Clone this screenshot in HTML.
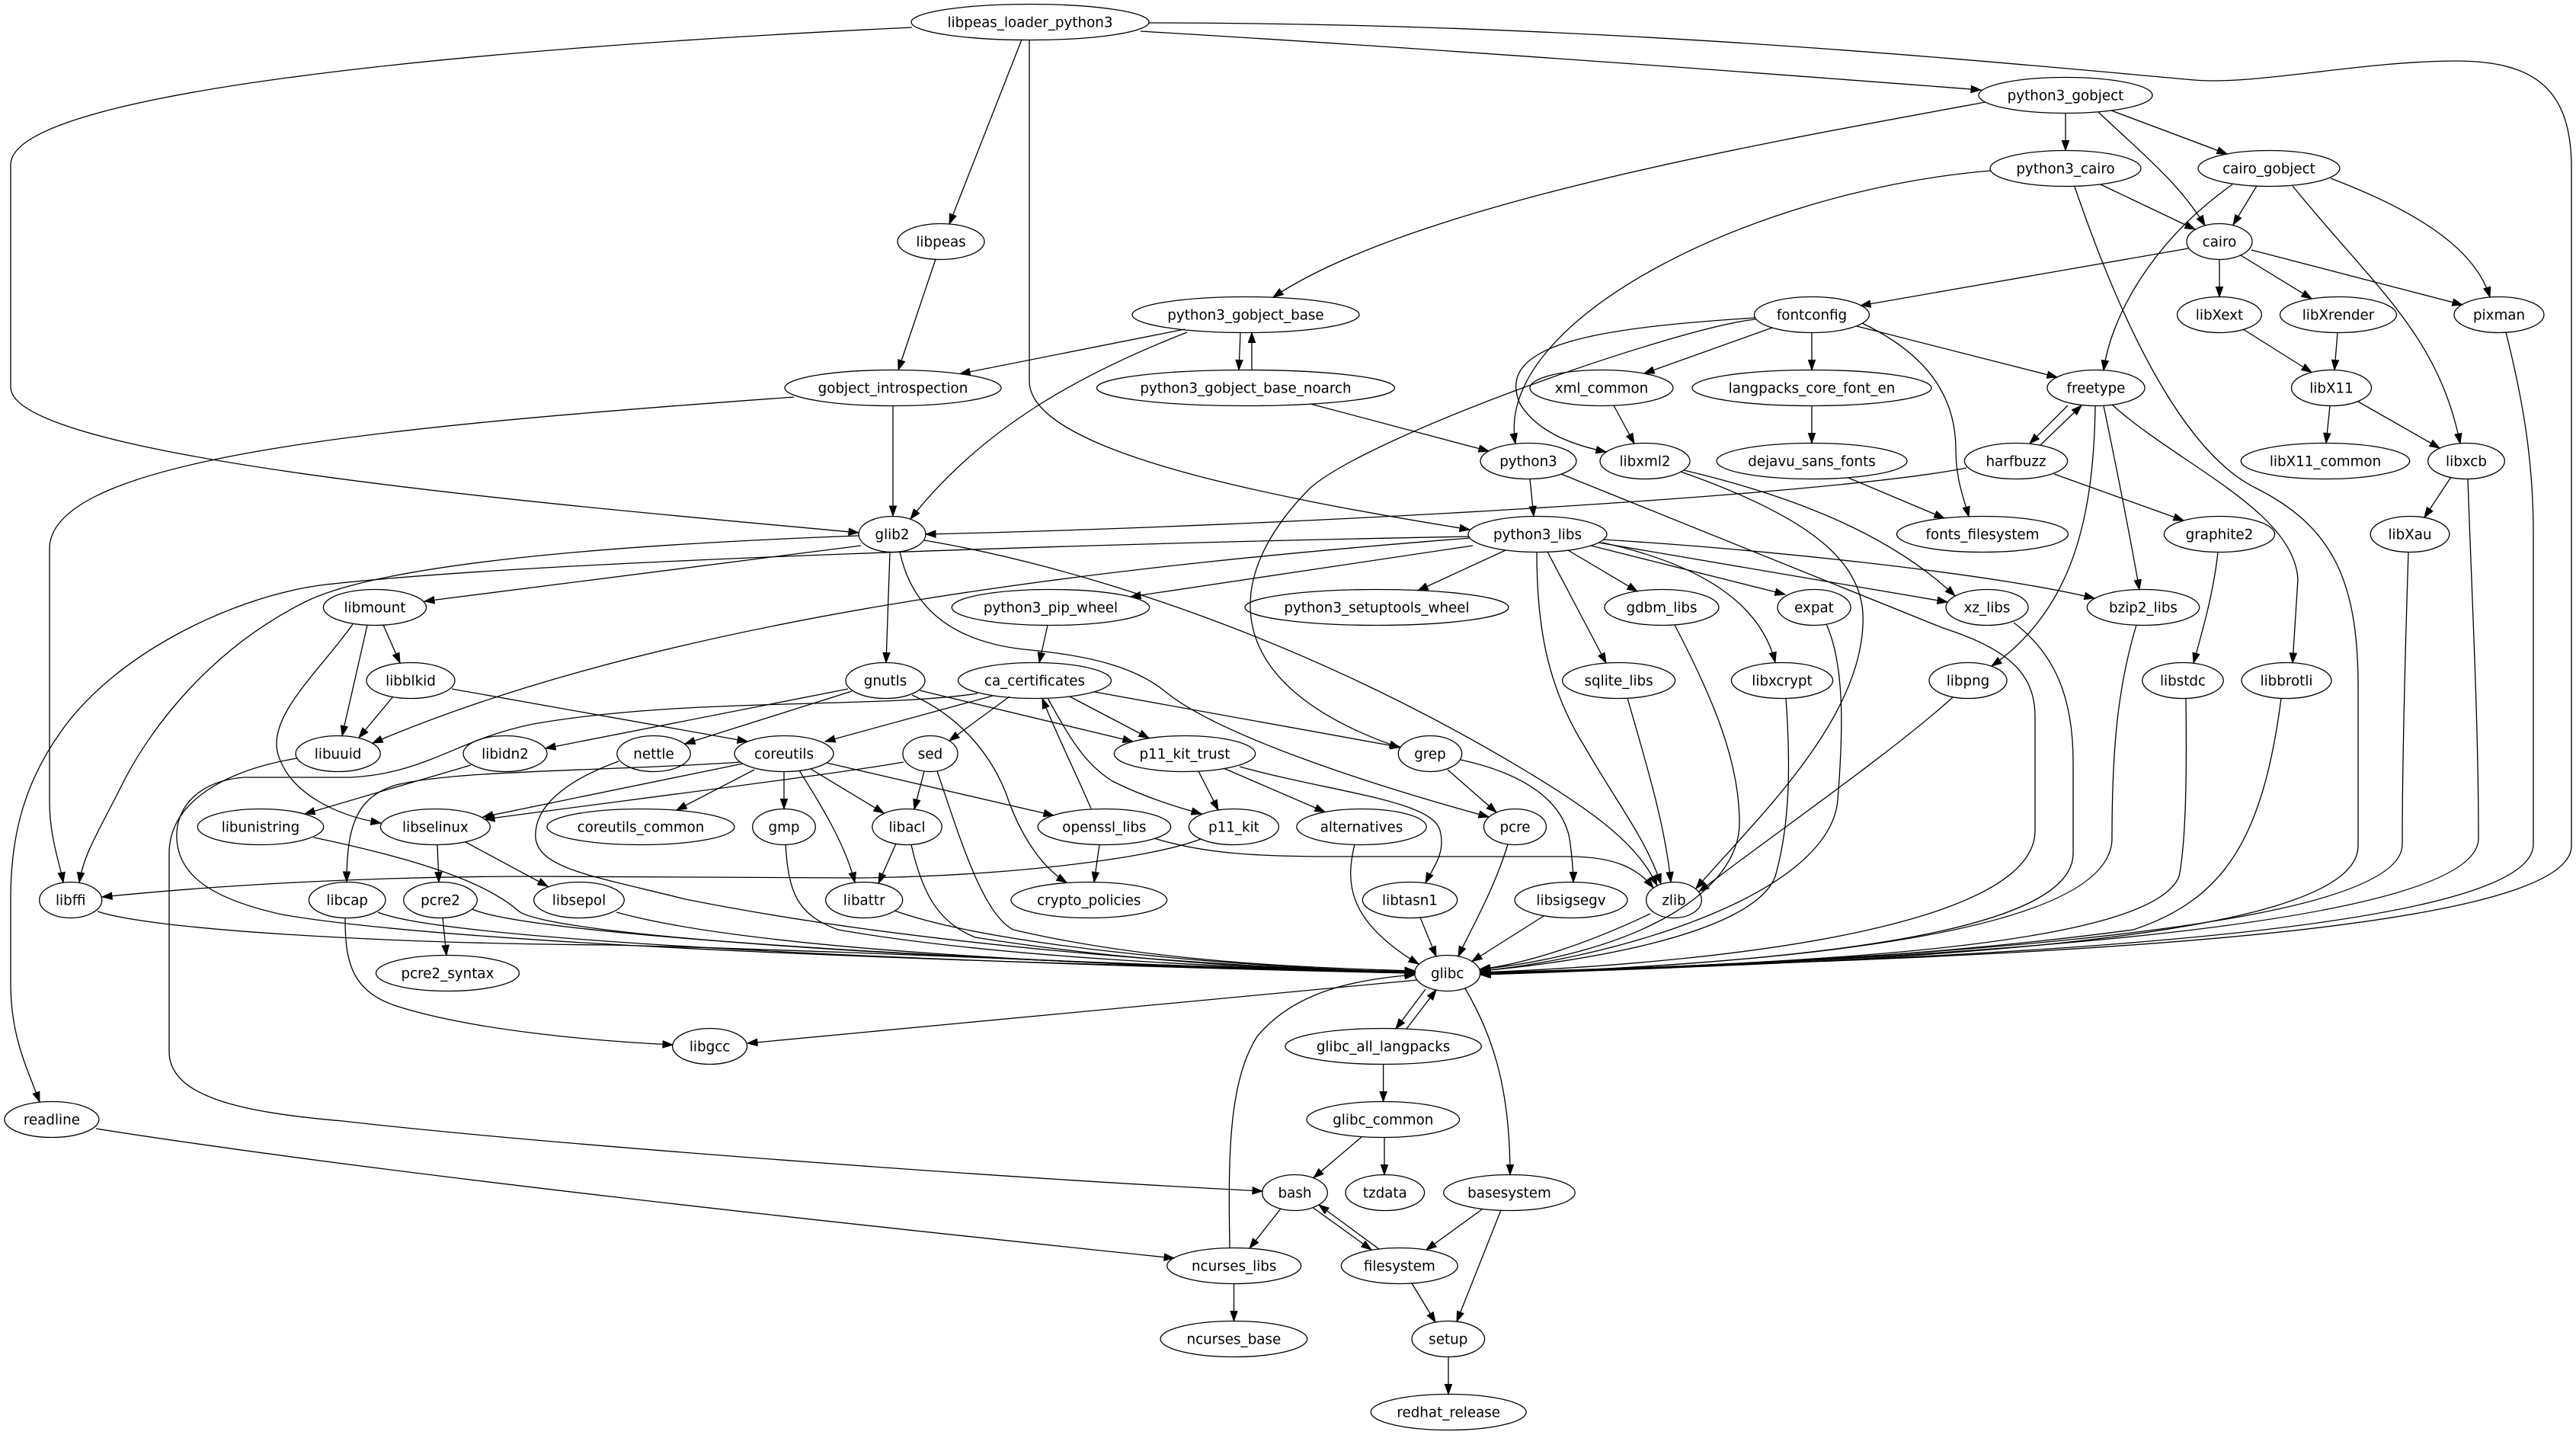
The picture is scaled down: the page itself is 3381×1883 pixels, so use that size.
<!DOCTYPE html>
<html><head><meta charset="utf-8"><style>
html,body{margin:0;padding:0;background:#fff;}
svg{display:block;}
text{font-family:"DejaVu Sans","Liberation Sans",sans-serif;font-size:18.3px;fill:#000;text-anchor:middle;}
</style></head><body>
<svg width="3381" height="1883" viewBox="0 0 3381 1883" xmlns="http://www.w3.org/2000/svg">
<defs>
<marker id="a" markerWidth="14" markerHeight="10" refX="13" refY="4.6" orient="auto" markerUnits="userSpaceOnUse" overflow="visible">
<path d="M0,0 L13,4.6 L0,9.2 z" fill="#000" stroke="#000" stroke-width="1"/>
</marker>
</defs>
<rect width="3381" height="1883" fill="#fff"/>
<g fill="none" stroke="#000" stroke-width="1.3" marker-end="url(#a)">
<path d="M1197,36 C900,50 14,100 14,216 L14,508 C14,600 700,660 1127,699"/>
<path d="M1341,52 L1246,294"/>
<path d="M1351,52.5 L1351,500 C1351,590 1650,650 1929,695"/>
<path d="M1497,41 C1900,65 2300,95 2600,118"/>
<path d="M1508,30 C2100,30 2600,80 2880,105 C2960,112 3100,80 3224,80 C3330,80 3375,120 3375,220 L3375,1110 C3375,1250 2300,1262 1943,1277"/>
<path d="M2606,134 C2300,190 1850,270 1671,390"/>
<path d="M2711,148.5 L2711,197.5"/>
<path d="M2771,145 L2923,202"/>
<path d="M2754,147 C2810,200 2860,240 2894,296"/>
<path d="M2757,242 L2881,301"/>
<path d="M2613,224 C2300,250 1960,420 1989,582"/>
<path d="M2723,245 C2800,470 2880,600 2960,640 C3060,690 3095,760 3095,900 L3095,1110 C3095,1240 2450,1262 1943,1279"/>
<path d="M2962,244 L2931,295"/>
<path d="M2930,242 C2820,320 2770,420 2761,486"/>
<path d="M3009,244 C3120,380 3200,440 3229,582"/>
<path d="M3059,234 C3180,280 3250,330 3268,390"/>
<path d="M2872,326 L2442,401"/>
<path d="M2913,340.5 L2913,389.5"/>
<path d="M2941,335 L3034,392"/>
<path d="M2955,328 L3232,400"/>
<path d="M1228,340 L1179,485.5"/>
<path d="M1555,432 L1260,490.5"/>
<path d="M1558,436 C1420,490 1290,560 1195,681"/>
<path d="M1628,436.5 L1626,485.5"/>
<path d="M1643,485.5 L1643,436.5"/>
<path d="M1720,530 L1954,592"/>
<path d="M1172,532.5 L1172,677"/>
<path d="M1042,521 C500,560 65,600 65,720 L65,1050 C65,1100 78,1130 83,1158"/>
<path d="M2326,430 L2158,490"/>
<path d="M2378,436.5 L2378,485.5"/>
<path d="M2437,428 L2700,495"/>
<path d="M2444,424 C2540,470 2567,530 2567,590 C2567,630 2578,655 2584,678"/>
<path d="M2304,417 C2100,430 1960,450 1995,530 C2020,570 2070,585 2108,593"/>
<path d="M2304,419 C2200,430 1800,570 1720,640 C1600,760 1600,900 1837,981"/>
<path d="M2118,532 L2145,582"/>
<path d="M2378,532.5 L2378,581.5"/>
<path d="M2426,627 L2552,680"/>
<path d="M2714,532 L2664,582"/>
<path d="M2678,584 L2732,532"/>
<path d="M2750,532.5 C2748,680 2720,800 2614,874"/>
<path d="M2761,532.5 C2775,600 2795,700 2808,774"/>
<path d="M2772,531 C2860,610 3010,670 3016,760 L3009,870"/>
<path d="M2581,614 C2400,650 1700,690 1215,701"/>
<path d="M2696,622 L2866,683"/>
<path d="M2944,432 L3034,488.5"/>
<path d="M3068,436.5 L3064,485.5"/>
<path d="M3058,532.5 L3053,581.5"/>
<path d="M3095,527 L3202,588"/>
<path d="M3217,626 L3182,679"/>
<path d="M3239,628.5 C3245,800 3253,950 3253,1100 C3253,1230 2400,1262 1943,1279"/>
<path d="M3161,724.5 C3157,850 3153,1000 3153,1108 C3153,1230 2400,1262 1943,1278"/>
<path d="M3289,436 C3310,520 3325,600 3325,700 L3325,1108 C3325,1240 2400,1262 1943,1277"/>
<path d="M2911,724.5 C2905,780 2890,830 2879,870"/>
<path d="M2869,916.5 C2870,1000 2870,1100 2860,1150 C2820,1250 2300,1265 1943,1278"/>
<path d="M2994,916.5 C2970,1100 2920,1180 2800,1220 C2500,1260 2200,1270 1943,1278"/>
<path d="M2804,820 C2780,900 2772,980 2772,1100 C2772,1200 2500,1260 1943,1278"/>
<path d="M2563,915 C2480,990 2320,1100 2230,1170"/>
<path d="M2643,817 C2700,860 2721,920 2721,1000 L2721,1120 C2721,1220 2400,1262 1943,1279"/>
<path d="M2397,819 C2420,870 2420,950 2412,1050 C2400,1180 2100,1260 1943,1274"/>
<path d="M2344,916.5 C2350,1000 2350,1080 2330,1150 C2300,1230 2050,1265 1943,1274"/>
<path d="M2103,712 C2230,740 2310,790 2330,869"/>
<path d="M2088,716 L2343,780"/>
<path d="M2098,712 L2556,790"/>
<path d="M2104,708 C2300,720 2600,750 2749,785"/>
<path d="M2008,628.5 L2013,677.5"/>
<path d="M2049,622 L2550,824 C2630,850 2671,880 2671,940 L2671,1090 C2671,1210 2300,1262 1943,1276"/>
<path d="M2206,619 C2380,680 2450,740 2445,820 C2440,950 2300,1080 2226,1166"/>
<path d="M2210,617 C2350,650 2480,700 2566,782"/>
<path d="M1933,716 L1484,783"/>
<path d="M1976,722 L1861,775"/>
<path d="M2058,722 L2149,776"/>
<path d="M2031,724 L2108,870"/>
<path d="M2017,724.5 C2017,820 2030,900 2080,980 C2120,1050 2160,1100 2180,1160"/>
<path d="M1929,706 C1500,740 900,800 489,975"/>
<path d="M1928,704 C1500,712 700,735 420,768 C300,785 150,860 80,960 C30,1030 14,1100 14,1180 L14,1290 C14,1360 35,1400 52,1446"/>
<path d="M1130,716 L557,789"/>
<path d="M1127,703 C800,715 500,740 400,790 C280,850 200,950 160,1030 C130,1090 110,1120 104,1158"/>
<path d="M1168,724.5 L1163,869.5"/>
<path d="M1213,709 C1400,740 1700,830 2000,1010 C2100,1070 2150,1110 2175,1162"/>
<path d="M1181,724 C1195,790 1240,840 1343,852 C1430,860 1490,875 1530,908 C1600,965 1800,1030 1954,1072"/>
<path d="M503,820 L525,870"/>
<path d="M482,820.5 L449,965.5"/>
<path d="M463,819 C420,880 350,940 365,990 C380,1040 440,1070 500,1080"/>
<path d="M516,914 L471,968"/>
<path d="M593,904 L981,973"/>
<path d="M390,995 C300,1010 222,1050 222,1120 L222,1380 C222,1440 320,1460 450,1471 C700,1500 1300,1545 1657,1563"/>
<path d="M618,1004 L400,1068"/>
<path d="M412,1099 C560,1130 640,1160 680,1195 C720,1230 1300,1265 1857,1275"/>
<path d="M574,1108.5 L576,1157.5"/>
<path d="M611,1105 L719,1163"/>
<path d="M809,1197 C1000,1250 1500,1270 1857,1276"/>
<path d="M581,1204.5 L586,1253.5"/>
<path d="M620,1193 C700,1230 1400,1268 1857,1276"/>
<path d="M496,1197 C600,1240 1400,1268 1857,1277"/>
<path d="M453,1204.5 C453,1260 460,1300 520,1320 C620,1352 780,1366 883,1371"/>
<path d="M128,1196 C200,1220 500,1238 800,1240 C1200,1250 1600,1272 1857,1277"/>
<path d="M1860,1286 L981,1369"/>
<path d="M812,999 C740,1025 700,1060 703,1100 C708,1140 780,1150 900,1180 C1200,1240 1600,1270 1857,1276"/>
<path d="M1113,904 L716,982"/>
<path d="M1118,907 L899,976"/>
<path d="M1207,906 L1487,973"/>
<path d="M1197,912 C1260,940 1300,990 1320,1040 C1340,1100 1370,1140 1400,1158"/>
<path d="M1303,913 L1083,973"/>
<path d="M1325,914 L1246,972"/>
<path d="M1404,914 L1508,968.5"/>
<path d="M1437,908 L1838,980.5"/>
<path d="M1375,916 C1400,960 1420,1000 1460,1025 C1500,1045 1540,1058 1577,1068"/>
<path d="M1283,910 C1150,930 900,915 700,950 C600,970 560,1015 460,1020 L320,1020 C260,1025 230,1060 232,1100 C234,1150 280,1180 370,1200 C600,1240 1300,1265 1857,1275"/>
<path d="M1375,820.5 L1364,869.5"/>
<path d="M975,1002 L634,1072"/>
<path d="M1186,1000 C1100,1015 900,1040 636,1075"/>
<path d="M990,1010 L888,1063"/>
<path d="M1029,1012.5 L1029,1061.5"/>
<path d="M1049,1011 C1080,1060 1110,1110 1122,1158"/>
<path d="M1064,1009 L1160,1067"/>
<path d="M1085,1001 L1383,1070"/>
<path d="M972,1000 C800,1012 600,1010 520,1030 C470,1045 455,1080 455,1157"/>
<path d="M1213,1012 L1200,1062"/>
<path d="M1230,1012 C1260,1100 1290,1200 1330,1220 C1500,1260 1700,1270 1857,1274"/>
<path d="M1176,1107 L1153,1159"/>
<path d="M1196,1108.5 C1210,1170 1230,1210 1280,1230 C1500,1265 1700,1272 1857,1276"/>
<path d="M1174,1195 C1300,1240 1600,1268 1857,1276"/>
<path d="M1031,1108 C1035,1170 1045,1200 1100,1220 C1300,1255 1600,1270 1857,1276"/>
<path d="M1443,1108 L1436,1157.5"/>
<path d="M1515,1100 C1580,1120 1650,1124 1750,1124 L2060,1124 C2120,1124 2150,1140 2170,1165"/>
<path d="M1432,1061 C1410,1010 1385,960 1368,916.5"/>
<path d="M1576,1101 C1500,1130 1300,1150 1127,1152 L700,1150 C500,1150 300,1160 134,1177"/>
<path d="M1573,1012 L1599,1063"/>
<path d="M1606,1008 L1739,1065.5"/>
<path d="M1627,1006 C1750,1040 1880,1050 1890,1090 C1898,1120 1880,1140 1871,1158.5"/>
<path d="M1778,1108 C1765,1160 1770,1210 1862,1265"/>
<path d="M1979,1108 C1960,1170 1930,1220 1914,1255"/>
<path d="M1900,1010 L1964,1066"/>
<path d="M1917,997 C2000,1015 2050,1050 2060,1100 C2064,1130 2065,1145 2065,1157.5"/>
<path d="M1864,1204 L1885,1255"/>
<path d="M2026,1202 L1932,1261.5"/>
<path d="M2166,1199 C2080,1240 2000,1265 1942,1272"/>
<path d="M2198,820 C2250,920 2283,1000 2283,1080 C2283,1170 2150,1250 1943,1272"/>
<path d="M2136,916 C2160,1000 2185,1080 2193,1157.5"/>
<path d="M1871,1298 L1832,1350"/>
<path d="M1846,1350 L1885,1299"/>
<path d="M1923,1297 C1960,1360 1982,1430 1982,1541.5"/>
<path d="M1815.6,1396.5 L1815.6,1445.5"/>
<path d="M1787,1492 L1724,1545.5"/>
<path d="M1817,1492.5 L1817,1541.5"/>
<path d="M1681,1586 L1640,1638"/>
<path d="M1723,1584.5 L1800,1640"/>
<path d="M1810,1639 L1731,1581"/>
<path d="M1945,1587 L1872,1640"/>
<path d="M1970,1588 L1912,1734"/>
<path d="M1853,1684 L1884,1735"/>
<path d="M1619.5,1684.5 L1619.5,1733.5"/>
<path d="M1614,1637.5 C1612,1520 1612,1420 1650,1360 C1700,1300 1780,1285 1857,1279"/>
<path d="M1901,1780.5 L1901,1829.5"/>
<path d="M126,1481 C500,1540 1100,1605 1541,1651"/>
</g>
<g fill="none" stroke="#000" stroke-width="1.3">
<ellipse cx="1352" cy="29" rx="156" ry="23.5"/>
<ellipse cx="2711" cy="125" rx="114" ry="23.5"/>
<ellipse cx="2711" cy="221" rx="99" ry="23.5"/>
<ellipse cx="2978" cy="221" rx="93" ry="23.5"/>
<ellipse cx="1235" cy="317" rx="57" ry="23.5"/>
<ellipse cx="2913" cy="317" rx="43" ry="23.5"/>
<ellipse cx="1635" cy="413" rx="149" ry="23.5"/>
<ellipse cx="2378" cy="413" rx="75.5" ry="23.5"/>
<ellipse cx="2913" cy="413" rx="55.4" ry="23.5"/>
<ellipse cx="3069" cy="413" rx="76.5" ry="23.5"/>
<ellipse cx="3280" cy="413" rx="59" ry="23.5"/>
<ellipse cx="1172" cy="509" rx="142" ry="23.5"/>
<ellipse cx="1635" cy="509" rx="195.5" ry="23.5"/>
<ellipse cx="2102" cy="509" rx="94" ry="23.5"/>
<ellipse cx="2378" cy="509" rx="157" ry="23.5"/>
<ellipse cx="2751" cy="509" rx="64" ry="23.5"/>
<ellipse cx="3060" cy="509" rx="52.5" ry="23.5"/>
<ellipse cx="2006" cy="605" rx="63" ry="23.5"/>
<ellipse cx="2159" cy="605" rx="59" ry="23.5"/>
<ellipse cx="2378" cy="605" rx="125" ry="23.5"/>
<ellipse cx="2646" cy="605" rx="67.6" ry="23.5"/>
<ellipse cx="3052" cy="605" rx="110.7" ry="23.5"/>
<ellipse cx="3237" cy="605" rx="50.3" ry="23.5"/>
<ellipse cx="1171" cy="701" rx="44" ry="23.5"/>
<ellipse cx="2018" cy="701" rx="91" ry="23.5"/>
<ellipse cx="2602" cy="701" rx="112.5" ry="23.5"/>
<ellipse cx="2913" cy="701" rx="72.6" ry="23.5"/>
<ellipse cx="3163" cy="701" rx="51.8" ry="23.5"/>
<ellipse cx="492" cy="797" rx="67.6" ry="23.5"/>
<ellipse cx="1379" cy="797" rx="129.7" ry="23.5"/>
<ellipse cx="1807" cy="797" rx="173" ry="23.5"/>
<ellipse cx="2181" cy="797" rx="75" ry="23.5"/>
<ellipse cx="2381" cy="797" rx="48" ry="23.5"/>
<ellipse cx="2608" cy="797" rx="54" ry="23.5"/>
<ellipse cx="2813" cy="797" rx="73.7" ry="23.5"/>
<ellipse cx="539" cy="893" rx="58" ry="23.5"/>
<ellipse cx="1162" cy="893" rx="52" ry="23.5"/>
<ellipse cx="1358" cy="893" rx="100.5" ry="23.5"/>
<ellipse cx="2124.6" cy="893" rx="74" ry="23.5"/>
<ellipse cx="2339" cy="893" rx="66.6" ry="23.5"/>
<ellipse cx="2583" cy="893" rx="51" ry="23.5"/>
<ellipse cx="2865" cy="893" rx="53.2" ry="23.5"/>
<ellipse cx="3001" cy="893" rx="59" ry="23.5"/>
<ellipse cx="443.6" cy="989" rx="55.6" ry="23.5"/>
<ellipse cx="663" cy="989" rx="55" ry="23.5"/>
<ellipse cx="858" cy="989" rx="48.2" ry="23.5"/>
<ellipse cx="1029" cy="989" rx="65" ry="23.5"/>
<ellipse cx="1221" cy="989" rx="36" ry="23.5"/>
<ellipse cx="1555" cy="989" rx="92.7" ry="23.5"/>
<ellipse cx="1877" cy="989" rx="41.7" ry="23.5"/>
<ellipse cx="342" cy="1085" rx="82.7" ry="23.5"/>
<ellipse cx="571.4" cy="1085" rx="72" ry="23.5"/>
<ellipse cx="841" cy="1085" rx="123" ry="23.5"/>
<ellipse cx="1029" cy="1085" rx="41.3" ry="23.5"/>
<ellipse cx="1190.5" cy="1085" rx="45.7" ry="23.5"/>
<ellipse cx="1449.4" cy="1085" rx="87.3" ry="23.5"/>
<ellipse cx="1619.4" cy="1085" rx="59" ry="23.5"/>
<ellipse cx="1787" cy="1085" rx="85.2" ry="23.5"/>
<ellipse cx="1988.5" cy="1085" rx="41" ry="23.5"/>
<ellipse cx="92.7" cy="1181" rx="41" ry="23.5"/>
<ellipse cx="455.7" cy="1181" rx="50.3" ry="23.5"/>
<ellipse cx="578" cy="1181" rx="48.3" ry="23.5"/>
<ellipse cx="760" cy="1181" rx="59.3" ry="23.5"/>
<ellipse cx="1134.2" cy="1181" rx="50.5" ry="23.5"/>
<ellipse cx="1429.3" cy="1181" rx="102.4" ry="23.5"/>
<ellipse cx="1850.5" cy="1181" rx="62.2" ry="23.5"/>
<ellipse cx="2062" cy="1181" rx="74" ry="23.5"/>
<ellipse cx="2197" cy="1181" rx="36.3" ry="23.5"/>
<ellipse cx="587.5" cy="1277" rx="94" ry="23.5"/>
<ellipse cx="1899.7" cy="1277" rx="43" ry="23.5"/>
<ellipse cx="931.6" cy="1373" rx="49" ry="23.5"/>
<ellipse cx="1815.6" cy="1373" rx="128.7" ry="23.5"/>
<ellipse cx="67.9" cy="1469" rx="62" ry="23.5"/>
<ellipse cx="1815.3" cy="1469" rx="100.3" ry="23.5"/>
<ellipse cx="1699.5" cy="1565" rx="42.8" ry="23.5"/>
<ellipse cx="1817.8" cy="1565" rx="51.8" ry="23.5"/>
<ellipse cx="1981" cy="1565" rx="86.3" ry="23.5"/>
<ellipse cx="1619.7" cy="1661" rx="88" ry="23.5"/>
<ellipse cx="1836.8" cy="1661" rx="76.5" ry="23.5"/>
<ellipse cx="1619.4" cy="1757" rx="96.3" ry="23.5"/>
<ellipse cx="1900.8" cy="1757" rx="47.8" ry="23.5"/>
<ellipse cx="1901.2" cy="1853" rx="102" ry="23.5"/>
</g>
<g>
<text x="1352" y="35.3">libpeas_loader_python3</text>
<text x="2711" y="131.3">python3_gobject</text>
<text x="2711" y="227.3">python3_cairo</text>
<text x="2978" y="227.3">cairo_gobject</text>
<text x="1235" y="323.3">libpeas</text>
<text x="2913" y="323.3">cairo</text>
<text x="1635" y="419.3">python3_gobject_base</text>
<text x="2378" y="419.3">fontconfig</text>
<text x="2913" y="419.3">libXext</text>
<text x="3069" y="419.3">libXrender</text>
<text x="3280" y="419.3">pixman</text>
<text x="1172" y="515.3">gobject_introspection</text>
<text x="1635" y="515.3">python3_gobject_base_noarch</text>
<text x="2102" y="515.3">xml_common</text>
<text x="2378" y="515.3">langpacks_core_font_en</text>
<text x="2751" y="515.3">freetype</text>
<text x="3060" y="515.3">libX11</text>
<text x="2006" y="611.3">python3</text>
<text x="2159" y="611.3">libxml2</text>
<text x="2378" y="611.3">dejavu_sans_fonts</text>
<text x="2646" y="611.3">harfbuzz</text>
<text x="3052" y="611.3">libX11_common</text>
<text x="3237" y="611.3">libxcb</text>
<text x="1171" y="707.3">glib2</text>
<text x="2018" y="707.3">python3_libs</text>
<text x="2602" y="707.3">fonts_filesystem</text>
<text x="2913" y="707.3">graphite2</text>
<text x="3163" y="707.3">libXau</text>
<text x="492" y="803.3">libmount</text>
<text x="1379" y="803.3">python3_pip_wheel</text>
<text x="1807" y="803.3">python3_setuptools_wheel</text>
<text x="2181" y="803.3">gdbm_libs</text>
<text x="2381" y="803.3">expat</text>
<text x="2608" y="803.3">xz_libs</text>
<text x="2813" y="803.3">bzip2_libs</text>
<text x="539" y="899.3">libblkid</text>
<text x="1162" y="899.3">gnutls</text>
<text x="1358" y="899.3">ca_certificates</text>
<text x="2124.6" y="899.3">sqlite_libs</text>
<text x="2339" y="899.3">libxcrypt</text>
<text x="2583" y="899.3">libpng</text>
<text x="2865" y="899.3">libstdc</text>
<text x="3001" y="899.3">libbrotli</text>
<text x="443.6" y="995.3">libuuid</text>
<text x="663" y="995.3">libidn2</text>
<text x="858" y="995.3">nettle</text>
<text x="1029" y="995.3">coreutils</text>
<text x="1221" y="995.3">sed</text>
<text x="1555" y="995.3">p11_kit_trust</text>
<text x="1877" y="995.3">grep</text>
<text x="342" y="1091.3">libunistring</text>
<text x="571.4" y="1091.3">libselinux</text>
<text x="841" y="1091.3">coreutils_common</text>
<text x="1029" y="1091.3">gmp</text>
<text x="1190.5" y="1091.3">libacl</text>
<text x="1449.4" y="1091.3">openssl_libs</text>
<text x="1619.4" y="1091.3">p11_kit</text>
<text x="1787" y="1091.3">alternatives</text>
<text x="1988.5" y="1091.3">pcre</text>
<text x="92.7" y="1187.3">libffi</text>
<text x="455.7" y="1187.3">libcap</text>
<text x="578" y="1187.3">pcre2</text>
<text x="760" y="1187.3">libsepol</text>
<text x="1134.2" y="1187.3">libattr</text>
<text x="1429.3" y="1187.3">crypto_policies</text>
<text x="1850.5" y="1187.3">libtasn1</text>
<text x="2062" y="1187.3">libsigsegv</text>
<text x="2197" y="1187.3">zlib</text>
<text x="587.5" y="1283.3">pcre2_syntax</text>
<text x="1899.7" y="1283.3">glibc</text>
<text x="931.6" y="1379.3">libgcc</text>
<text x="1815.6" y="1379.3">glibc_all_langpacks</text>
<text x="67.9" y="1475.3">readline</text>
<text x="1815.3" y="1475.3">glibc_common</text>
<text x="1699.5" y="1571.3">bash</text>
<text x="1817.8" y="1571.3">tzdata</text>
<text x="1981" y="1571.3">basesystem</text>
<text x="1619.7" y="1667.3">ncurses_libs</text>
<text x="1836.8" y="1667.3">filesystem</text>
<text x="1619.4" y="1763.3">ncurses_base</text>
<text x="1900.8" y="1763.3">setup</text>
<text x="1901.2" y="1859.3">redhat_release</text>
</g>
</svg>
</body></html>
